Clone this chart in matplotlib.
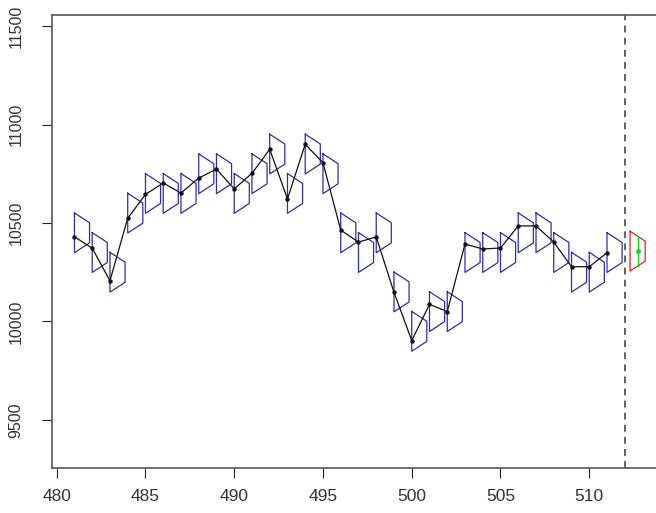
import numpy as np
import matplotlib
matplotlib.use("Agg")
import matplotlib.pyplot as plt

plt.rcParams['font.family'] = ['Liberation Sans', 'DejaVu Sans']

# observed series
t = list(range(481, 512))
obs = [10430, 10372, 10207, 10524, 10645, 10703, 10652, 10728, 10774, 10673,
       10752, 10874, 10622, 10900, 10806, 10464, 10403, 10429, 10148, 9903,
       10087, 10050, 10393, 10368, 10373, 10485, 10485, 10403, 10278, 10278,
       10349]
# centre of the density glyph drawn at each step
centre = [10450, 10350, 10250, 10550, 10650, 10650, 10650, 10750, 10750, 10650,
          10750, 10850, 10650, 10850, 10750, 10450, 10350, 10450, 10150, 9950,
          10050, 10050, 10350, 10350, 10350, 10450, 10450, 10350, 10250, 10250,
          10350]

# one step ahead forecast
fc_left = 512.3
fc_x = 512.72
fc_mean = 10360
fc_centre = 10357
split_at = 512

glyph_w = 0.85
half_in = 101   # half height at the left edge
half_out = 51   # half height at the right edge

fig = plt.figure(figsize=(6.56, 5.13), dpi=100)
ax = fig.add_axes([52/656, 45/513, 604/656, 453/513])


def glyph(ax, x0, c, col):
    xs = [x0, x0 + glyph_w, x0 + glyph_w, x0, x0]
    ys = [c + half_in, c + half_out, c - half_out, c - half_in, c + half_in]
    ax.plot(xs, ys, color=col, lw=0.9, zorder=2)


for x0, c in zip(t, centre):
    glyph(ax, x0, c, '#2e2ea6')

ax.plot(t, obs, color='#111111', lw=0.9, zorder=3)
ax.plot(t, obs, 'o', color='#111111', ms=2.2, zorder=4)

ax.axvline(split_at, color='#555555', lw=1.3, ls=(0, (3.8, 2.9)), zorder=1)

glyph(ax, fc_left, fc_centre, '#dd2222')
fc_top = fc_centre + half_in - (half_in - half_out) * (fc_x - fc_left) / glyph_w
fc_bot = 2 * fc_centre - fc_top
ax.plot([fc_x, fc_x], [fc_bot, fc_top], color='#22cc22', lw=1.0, zorder=3)
ax.plot(fc_x, fc_mean, 'o', color='#22cc22', ms=2.5, zorder=4)

ax.set_xlim(479.735, 513.76)
ax.set_ylim(9256, 11556)
ax.set_xticks(np.arange(480, 511, 5))
ax.set_yticks(np.arange(9500, 11501, 500))
ax.set_yticklabels([str(v) for v in range(9500, 11501, 500)], rotation=90, va='center')

for s in ['left', 'top', 'bottom']:
    ax.spines[s].set_color('#555555')
    ax.spines[s].set_linewidth(1.2)
ax.spines['right'].set_visible(False)
ax.tick_params(length=7.5, width=0.8, color='#222222', labelcolor='#333333')
ax.tick_params(axis='x', pad=7.5, labelsize=12.5)
ax.tick_params(axis='y', pad=13, labelsize=11.5)

fig.savefig('out.png', dpi=100)
